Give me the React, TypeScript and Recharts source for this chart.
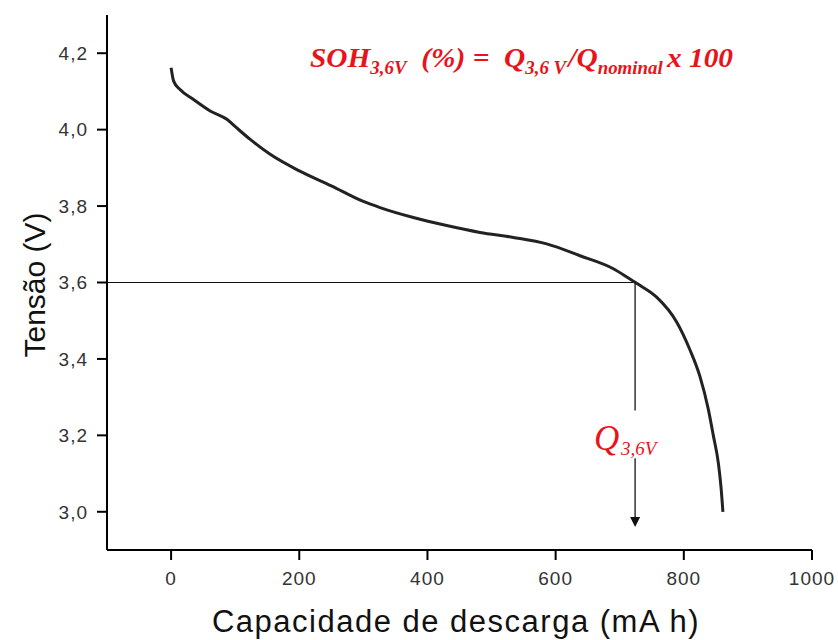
import React from "react";
import {
  LineChart,
  Line,
  XAxis,
  YAxis,
  ReferenceLine,
  ReferenceDot,
} from "recharts";

// capacidade de descarga (mA h) e tensão (V)
const capacidade = [0, 4, 14, 35, 61, 87, 102, 123, 154, 200, 250, 300, 326, 378, 430, 482, 534, 586, 638, 690, 716, 732, 758, 789, 809, 825, 838, 846, 854, 858, 861];
const tensao = [4.162, 4.127, 4.105, 4.079, 4.049, 4.027, 4.005, 3.975, 3.936, 3.892, 3.853, 3.812, 3.796, 3.77, 3.749, 3.731, 3.718, 3.701, 3.67, 3.636, 3.609, 3.592, 3.561, 3.496, 3.426, 3.355, 3.27, 3.2, 3.126, 3.065, 3.0];

const xMajorTicks = [0, 200, 400, 600, 800, 1000];
const xMinorTicks = [-100, 100, 300, 500, 700, 900];
const yMajorTicks = [3.0, 3.2, 3.4, 3.6, 3.8, 4.0, 4.2];
const yMinorTicks = [2.9, 3.1, 3.3, 3.5, 3.7, 3.9, 4.1, 4.3];

// Q a 3,6 V
const q36 = 724;
const vCorte = 3.6;

const data = capacidade.map((c, i) => ({ c, v: tensao[i] }));

const W = 838;
const H = 640;
const red = "#e8141c";
const sans = "Liberation Sans, Arial, sans-serif";
const serif = "Liberation Serif, Times New Roman, serif";
const tickStyle = { fontSize: 19, fill: "#333", fontFamily: sans, letterSpacing: 1 };

const ArrowHead = (props: any) => {
  const { cx, cy } = props;
  return <path d={`M${cx - 5},${cy - 10} L${cx + 5},${cy - 10} L${cx},${cy} Z`} fill="#111" />;
};

export default function App() {
  return (
    <div style={{ position: "absolute", left: 0, top: 0, width: W, height: H, background: "#fff" }}>
      <LineChart
        width={W}
        height={H}
        data={data}
        margin={{ top: 15, right: 26, bottom: 60, left: 47 }}
      >
        <XAxis
          dataKey="c"
          type="number"
          domain={[-100, 1000]}
          ticks={xMinorTicks}
          xAxisId="minor"
          height={0}
          tick={false}
          axisLine={false}
          tickSize={5}
          tickLine={{ stroke: "#000", strokeWidth: 2 }}
        />
        <XAxis
          dataKey="c"
          type="number"
          domain={[-100, 1000]}
          ticks={xMajorTicks}
          height={30}
          tickSize={10}
          tickMargin={12}
          fontSize={19}
          tick={tickStyle}
          axisLine={{ stroke: "#000", strokeWidth: 2 }}
          tickLine={{ stroke: "#000", strokeWidth: 2 }}
        />
        <XAxis
          xAxisId="top"
          orientation="top"
          type="number"
          domain={[-100, 1000]}
          height={0}
          tick={false}
          tickLine={false}
          axisLine={{ stroke: "#000", strokeWidth: 2 }}
        />
        <YAxis
          yAxisId="minor"
          type="number"
          domain={[2.9, 4.3]}
          ticks={yMinorTicks}
          width={0}
          tick={false}
          axisLine={false}
          tickSize={5}
          tickLine={{ stroke: "#000", strokeWidth: 2 }}
        />
        <YAxis
          type="number"
          domain={[2.9, 4.3]}
          ticks={yMajorTicks}
          width={60}
          tickSize={10}
          tickMargin={9}
          fontSize={19}
          tick={tickStyle}
          tickFormatter={(v: number) => v.toFixed(1).replace(".", ",")}
          axisLine={{ stroke: "#000", strokeWidth: 2 }}
          tickLine={{ stroke: "#000", strokeWidth: 2 }}
        />
        <YAxis
          yAxisId="right"
          orientation="right"
          type="number"
          domain={[2.9, 4.3]}
          width={0}
          tick={false}
          tickLine={false}
          axisLine={{ stroke: "#000", strokeWidth: 2 }}
        />
        <ReferenceLine
          segment={[{ x: -100, y: vCorte }, { x: q36, y: vCorte }]}
          stroke="#111"
          strokeWidth={1}
        />
        <ReferenceLine
          segment={[{ x: q36, y: vCorte }, { x: q36, y: 3.265 }]}
          stroke="#333"
          strokeWidth={1.5}
        />
        <ReferenceLine
          segment={[{ x: q36, y: 3.14 }, { x: q36, y: 2.975 }]}
          stroke="#333"
          strokeWidth={1.5}
        />
        <ReferenceDot x={q36} y={2.96} r={5} shape={ArrowHead} />
        <Line
          dataKey="v"
          type="monotone"
          stroke="#222"
          strokeWidth={3}
          dot={false}
          isAnimationActive={false}
        />
      </LineChart>
      <svg
        width={W}
        height={H}
        style={{ position: "absolute", left: 0, top: 0, pointerEvents: "none" }}
      >
        <text
          x={310}
          y={67}
          textLength={423}
          lengthAdjust="spacingAndGlyphs"
          fontFamily={serif}
          fontStyle="italic"
          fontWeight="bold"
          fill={red}
          fontSize={28}
        >
          <tspan>SOH</tspan>
          <tspan fontSize={18} dy={7}>3,6V</tspan>
          <tspan dy={-7} dx={14}>(%) =</tspan>
          <tspan dx={14}>Q</tspan>
          <tspan fontSize={18} dy={7}>3,6 V</tspan>
          <tspan dy={-7} dx={2}>/Q</tspan>
          <tspan fontSize={18} dy={7}>nominal</tspan>
          <tspan dy={-7} dx={4}>x 100</tspan>
        </text>
        <g fontFamily={serif} fontStyle="italic" fill={red}>
          <text x={594} y={450} fontSize={35}>Q</text>
          <text x={621} y={455} fontSize={19}>3,6V</text>
        </g>
        <text
          x={456}
          y={632}
          textAnchor="middle"
          fontSize={31}
          letterSpacing={1.5}
          fontFamily={sans}
          fill="#111"
        >
          Capacidade de descarga (mA h)
        </text>
        <text
          x={45}
          y={285}
          transform="rotate(-90 45 285)"
          textAnchor="middle"
          fontSize={30}
          fontFamily={sans}
          fill="#111"
        >
          Tensão (V)
        </text>
      </svg>
    </div>
  );
}
